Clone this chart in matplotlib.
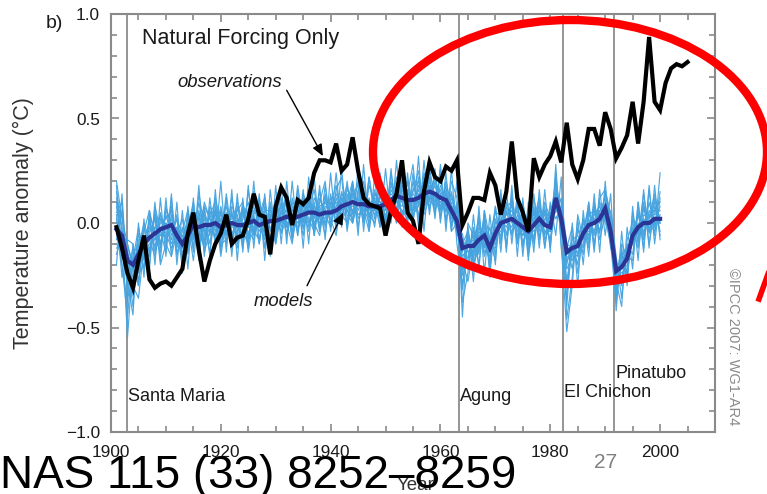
import matplotlib
matplotlib.use("Agg")
import matplotlib.pyplot as plt
from matplotlib.patches import Ellipse
from matplotlib.ticker import MultipleLocator, FixedLocator
from matplotlib.lines import Line2D

plt.rcParams['font.family'] = ['Liberation Sans', 'DejaVu Sans']

# ---------------- data ----------------
obs_years = list(range(1901, 2006))
observations = [
    -0.02, -0.12, -0.24, -0.31, -0.18, -0.06, -0.27, -0.31, -0.29, -0.28,
    -0.30, -0.26, -0.22, -0.05, 0.05, -0.13, -0.28, -0.18, -0.10, -0.05,
    0.04, -0.10, -0.07, -0.06, 0.02, 0.14, 0.04, 0.03, -0.15, 0.08,
    0.17, 0.12, -0.01, 0.11, 0.09, 0.12, 0.24, 0.30, 0.30, 0.29,
    0.38, 0.25, 0.28, 0.41, 0.25, 0.12, 0.09, 0.08, 0.07, -0.06,
    0.06, 0.14, 0.30, 0.05, 0.01, -0.10, 0.15, 0.29, 0.22, 0.20,
    0.27, 0.25, 0.30, -0.01, 0.05, 0.12, 0.12, 0.11, 0.24, 0.18,
    0.04, 0.15, 0.39, 0.12, 0.05, -0.04, 0.31, 0.22, 0.28, 0.32,
    0.39, 0.29, 0.48, 0.28, 0.21, 0.30, 0.45, 0.45, 0.37, 0.53,
    0.45, 0.31, 0.36, 0.42, 0.58, 0.38, 0.58, 0.89, 0.58, 0.54,
    0.67, 0.74, 0.76, 0.75, 0.77,
]

model_years = list(range(1901, 2001))
model_mean = [
    -0.03, -0.06, -0.18, -0.20, -0.15, -0.10, -0.07, -0.05, -0.03, -0.02,
    -0.01, -0.06, -0.10, -0.06, -0.01, -0.02, -0.01, -0.01, 0.00, -0.02,
    -0.01, 0.00, -0.01, -0.01, 0.00, 0.01, -0.01, 0.00, 0.01, 0.01,
    0.02, 0.03, 0.02, 0.03, 0.04, 0.05, 0.05, 0.04, 0.05, 0.05,
    0.06, 0.08, 0.09, 0.10, 0.09, 0.09, 0.08, 0.08, 0.08, 0.09,
    0.11, 0.13, 0.12, 0.11, 0.11, 0.12, 0.14, 0.15, 0.14, 0.12,
    0.11, 0.06, 0.01, -0.12, -0.11, -0.11, -0.08, -0.06, -0.12, -0.05,
    0.00, 0.01, 0.02, 0.00, -0.02, -0.04, -0.01, 0.02, -0.01, -0.02,
    0.12, 0.02, -0.14, -0.12, -0.11, -0.05, -0.01, 0.00, 0.02, 0.07,
    -0.04, -0.23, -0.21, -0.17, -0.06, -0.02, 0.00, 0.00, 0.02, 0.02,
]

run_a = [
    0.15, -0.02, -0.30, -0.25, -0.05, -0.18, 0.02, -0.12, 0.05, -0.08,
    0.08, -0.12, -0.02, -0.15, 0.06, -0.08, 0.10, 0.02, -0.09, 0.05,
    -0.10, 0.08, 0.02, -0.12, 0.07, -0.05, 0.12, -0.06, 0.04, -0.10,
    0.05, 0.14, -0.04, 0.08, -0.06, 0.12, 0.02, 0.15, -0.02, 0.09,
    0.18, 0.02, 0.14, 0.05, 0.20, 0.01, 0.12, -0.02, 0.16, 0.06,
    0.20, 0.05, 0.22, 0.08, 0.15, 0.25, 0.06, 0.18, 0.10, 0.22,
    0.05, 0.15, -0.02, -0.25, -0.05, -0.18, 0.02, -0.12, -0.02, -0.15,
    0.08, -0.06, 0.10, -0.08, 0.05, -0.12, 0.06, -0.04, 0.10, 0.02,
    0.20, 0.05, -0.28, -0.10, -0.20, 0.02, -0.08, 0.08, -0.05, 0.15,
    0.02, -0.32, -0.15, -0.25, 0.05, -0.10, 0.08, -0.05, 0.12, 0.00,
]
run_b = [
    -0.10, -0.15, -0.12, -0.35, -0.20, -0.02, -0.15, 0.05, -0.10, 0.04,
    -0.06, 0.02, -0.18, 0.04, -0.08, 0.06, -0.10, 0.08, 0.02, -0.12,
    0.05, -0.08, 0.06, 0.10, -0.06, 0.04, -0.10, 0.08, -0.04, 0.06,
    -0.05, 0.02, 0.10, -0.06, 0.12, -0.02, 0.10, -0.04, 0.14, 0.00,
    0.02, 0.15, 0.05, 0.18, -0.02, 0.14, 0.02, 0.16, 0.04, 0.12,
    0.05, 0.18, 0.02, 0.20, 0.04, 0.08, 0.22, 0.10, 0.24, 0.06,
    0.18, -0.02, 0.08, -0.20, -0.18, -0.02, -0.15, 0.04, -0.20, 0.02,
    -0.08, 0.06, -0.05, 0.10, -0.10, 0.02, -0.08, 0.10, -0.06, 0.05,
    0.05, 0.12, -0.10, -0.22, -0.02, -0.15, 0.06, -0.06, 0.10, 0.02,
    -0.10, -0.18, -0.30, -0.10, -0.15, 0.06, -0.06, 0.10, -0.02, 0.15,
]
run_c = [
    0.05, 0.10, -0.25, -0.12, -0.28, -0.08, 0.00, -0.14, 0.02, -0.05,
    -0.12, -0.05, 0.02, -0.14, 0.08, -0.10, 0.04, -0.06, 0.12, 0.00,
    0.08, -0.04, -0.12, 0.05, -0.02, 0.15, 0.00, -0.08, 0.10, -0.02,
    0.10, -0.05, 0.06, 0.12, -0.03, 0.08, 0.16, -0.02, 0.06, 0.12,
    -0.02, 0.10, 0.18, 0.04, 0.12, 0.00, 0.18, 0.10, -0.02, 0.14,
    0.12, 0.00, 0.16, 0.20, 0.02, 0.14, 0.06, 0.26, 0.12, 0.04,
    0.20, 0.08, -0.06, -0.05, -0.22, -0.08, 0.00, -0.16, -0.06, 0.05,
    0.04, -0.10, 0.12, -0.02, 0.06, -0.14, 0.02, 0.12, -0.08, -0.02,
    0.16, -0.06, -0.12, -0.02, -0.24, -0.04, 0.08, -0.10, 0.05, 0.12,
    -0.08, -0.25, -0.12, -0.28, 0.02, -0.06, 0.14, -0.04, 0.08, -0.04,
]
run_d = [
    -0.05, -0.20, -0.45, -0.15, -0.10, -0.22, -0.04, 0.02, -0.12, 0.06,
    0.00, -0.14, -0.08, 0.02, -0.06, 0.10, -0.06, 0.04, -0.04, 0.08,
    -0.06, 0.12, -0.04, 0.02, 0.10, -0.06, 0.04, 0.12, -0.08, 0.05,
    0.12, -0.02, 0.04, -0.04, 0.10, 0.02, -0.04, 0.12, 0.04, -0.02,
    0.12, 0.04, 0.00, 0.16, 0.08, 0.20, 0.04, 0.00, 0.14, 0.02,
    0.16, 0.10, 0.06, 0.02, 0.20, 0.08, 0.18, 0.06, 0.20, 0.14,
    0.02, 0.12, 0.04, -0.32, -0.08, -0.14, -0.04, -0.10, -0.14, -0.06,
    -0.04, 0.08, 0.00, 0.06, -0.12, 0.04, -0.10, 0.06, 0.04, -0.10,
    0.08, 0.00, -0.20, -0.08, -0.06, -0.12, 0.04, 0.06, -0.04, 0.10,
    0.00, -0.35, -0.20, -0.12, -0.10, 0.04, -0.08, 0.06, 0.00, 0.08,
]
run_e = [
    0.08, -0.08, -0.20, -0.40, -0.08, -0.06, -0.14, -0.02, 0.04, -0.10,
    0.04, -0.08, -0.12, -0.04, 0.04, -0.04, -0.12, 0.06, -0.02, 0.02,
    0.02, -0.10, 0.08, -0.04, -0.10, 0.06, 0.06, -0.02, 0.02, 0.10,
    -0.02, 0.08, -0.08, 0.06, 0.04, 0.10, -0.02, 0.08, 0.10, 0.04,
    0.08, 0.12, 0.06, 0.02, 0.14, 0.10, 0.06, 0.14, 0.10, 0.04,
    0.08, 0.22, 0.14, 0.06, 0.10, 0.04, 0.12, 0.20, 0.08, 0.18,
    0.10, 0.00, 0.10, -0.10, -0.04, -0.20, -0.12, 0.02, -0.10, -0.12,
    0.06, 0.02, -0.06, 0.04, -0.02, -0.08, 0.08, -0.06, 0.02, 0.06,
    0.12, 0.10, -0.16, -0.18, -0.10, 0.02, -0.10, 0.04, 0.08, 0.00,
    -0.06, -0.20, -0.26, -0.16, -0.02, -0.12, 0.04, 0.02, 0.10, -0.06,
]
run_f = [
    0.20, 0.02, -0.10, -0.22, -0.18, -0.12, -0.02, -0.08, -0.06, 0.00,
    -0.04, -0.02, -0.14, -0.10, -0.04, 0.04, 0.02, -0.10, 0.08, -0.06,
    -0.04, 0.04, -0.06, 0.08, 0.04, -0.04, -0.08, 0.06, 0.06, -0.06,
    0.06, 0.00, 0.02, 0.10, 0.06, -0.04, 0.08, 0.02, 0.00, 0.10,
    0.04, 0.06, 0.16, 0.12, 0.04, 0.06, 0.10, 0.06, 0.12, 0.10,
    0.14, 0.10, 0.08, 0.16, 0.06, 0.18, 0.10, 0.12, 0.18, 0.08,
    0.14, 0.04, -0.02, -0.16, -0.12, -0.06, -0.10, -0.04, -0.08, -0.02,
    0.00, 0.04, 0.06, -0.04, 0.02, -0.02, -0.04, 0.00, 0.04, 0.00,
    0.10, 0.06, -0.18, -0.14, -0.08, -0.06, 0.00, 0.02, 0.00, 0.06,
    -0.02, -0.22, -0.24, -0.20, -0.08, 0.00, -0.02, 0.04, 0.04, 0.06,
]
run_g = [
    -0.12, -0.10, -0.22, -0.28, -0.22, -0.14, -0.10, -0.08, 0.00, 0.02,
    0.06, -0.10, -0.06, -0.08, 0.00, -0.06, 0.06, -0.04, -0.06, -0.04,
    0.00, 0.02, 0.04, -0.08, 0.02, 0.08, -0.02, -0.04, 0.04, 0.02,
    -0.04, 0.06, 0.04, 0.00, 0.06, 0.08, 0.04, 0.00, 0.08, 0.06,
    0.10, 0.04, 0.12, 0.14, 0.06, 0.12, 0.10, 0.04, 0.06, 0.12,
    0.10, 0.14, 0.18, 0.10, 0.14, 0.10, 0.16, 0.12, 0.10, 0.16,
    0.08, 0.10, -0.04, -0.08, -0.14, -0.10, -0.06, -0.08, -0.16, -0.08,
    0.02, -0.02, 0.04, 0.02, -0.06, 0.00, 0.02, 0.04, -0.04, -0.04,
    0.14, 0.00, -0.10, -0.12, -0.14, -0.04, -0.04, 0.02, 0.04, 0.04,
    -0.06, -0.26, -0.18, -0.14, -0.10, -0.04, 0.02, -0.02, 0.00, 0.02,
]
run_h = [
    0.12, -0.04, -0.55, -0.18, -0.02, -0.16, -0.20, 0.08, -0.04, -0.14,
    0.12, -0.16, -0.04, 0.06, -0.12, 0.14, -0.02, -0.14, 0.06, -0.08,
    0.14, -0.06, 0.02, -0.10, 0.16, -0.04, 0.02, 0.10, -0.12, 0.08,
    0.00, 0.12, -0.06, 0.18, 0.00, 0.14, -0.06, 0.10, 0.20, -0.04,
    0.16, 0.22, -0.04, 0.14, 0.18, 0.02, 0.22, 0.06, 0.18, 0.00,
    0.24, 0.06, 0.20, 0.14, 0.28, 0.02, 0.24, 0.16, 0.04, 0.26,
    0.00, 0.20, 0.12, -0.45, 0.00, -0.06, -0.20, 0.06, -0.08, -0.18,
    0.12, -0.12, 0.14, -0.10, 0.10, -0.08, 0.12, -0.02, 0.08, -0.12,
    0.24, -0.10, -0.52, -0.30, 0.04, -0.08, 0.10, -0.12, 0.12, 0.16,
    0.04, -0.42, -0.10, -0.16, -0.18, 0.10, -0.12, 0.16, -0.06, 0.24,
]
run_i = [
    -0.08, 0.06, -0.35, -0.32, -0.12, 0.00, -0.08, -0.16, -0.02, 0.00,
    -0.08, 0.04, -0.16, -0.12, 0.02, 0.00, -0.08, 0.04, 0.10, -0.10,
    -0.08, 0.06, -0.10, 0.06, -0.08, 0.10, 0.04, -0.12, 0.06, 0.04,
    0.08, -0.06, 0.12, 0.02, 0.08, 0.00, 0.12, 0.06, -0.06, 0.14,
    0.00, 0.14, 0.10, 0.20, 0.02, 0.08, 0.00, 0.12, 0.02, 0.16,
    0.02, 0.16, 0.10, 0.00, 0.16, 0.20, 0.08, 0.14, 0.22, 0.02,
    0.16, -0.04, 0.00, -0.18, -0.28, -0.12, 0.04, -0.14, -0.10, 0.08,
    -0.10, 0.10, 0.02, -0.06, 0.08, -0.16, 0.00, 0.08, -0.12, 0.08,
    0.02, 0.08, -0.40, -0.06, -0.16, 0.00, -0.06, 0.10, -0.08, 0.04,
    0.06, -0.16, -0.36, -0.08, 0.00, -0.08, 0.10, -0.10, 0.06, 0.10,
]
run_j = [
    0.02, -0.12, -0.15, -0.20, -0.30, -0.04, 0.06, -0.06, -0.14, 0.08,
    -0.02, -0.10, -0.08, -0.02, 0.10, -0.12, 0.00, 0.00, -0.06, 0.06,
    -0.02, -0.02, 0.10, 0.00, -0.04, -0.08, 0.08, 0.04, -0.02, -0.04,
    0.04, 0.10, 0.00, -0.02, 0.14, 0.06, 0.00, 0.06, 0.02, 0.08,
    0.06, 0.00, 0.08, 0.08, 0.12, 0.16, 0.04, 0.10, 0.08, 0.06,
    0.18, 0.12, 0.04, 0.12, 0.08, 0.12, 0.20, 0.08, 0.14, 0.10,
    0.06, 0.14, 0.00, -0.14, -0.06, -0.16, -0.02, -0.10, -0.18, 0.00,
    0.02, 0.00, -0.02, 0.08, -0.04, -0.06, -0.06, 0.06, 0.00, -0.08,
    0.10, 0.04, -0.14, -0.10, -0.12, -0.10, 0.02, -0.04, 0.06, 0.08,
    -0.12, -0.20, -0.22, -0.22, -0.04, -0.04, 0.02, 0.00, -0.04, 0.04,
]
run_k = [
    -0.15, -0.04, -0.10, -0.20, -0.12, -0.14, -0.12, -0.02, -0.06, -0.06,
    0.02, -0.04, -0.12, -0.06, -0.02, 0.02, -0.04, 0.00, 0.04, -0.02,
    0.04, -0.02, -0.02, -0.02, 0.04, 0.02, -0.04, 0.02, 0.00, 0.04,
    0.00, 0.04, 0.06, 0.04, 0.02, 0.06, 0.08, 0.02, 0.04, 0.04,
    0.08, 0.10, 0.08, 0.06, 0.10, 0.08, 0.10, 0.08, 0.06, 0.10,
    0.12, 0.12, 0.10, 0.14, 0.12, 0.10, 0.14, 0.16, 0.12, 0.10,
    0.12, 0.06, 0.02, -0.12, -0.10, -0.08, -0.06, -0.04, -0.10, -0.04,
    -0.02, 0.02, 0.02, 0.00, 0.00, -0.04, 0.00, 0.02, 0.00, -0.02,
    0.12, 0.02, -0.12, -0.12, -0.10, -0.06, -0.02, 0.00, 0.02, 0.06,
    -0.04, -0.22, -0.20, -0.16, -0.06, -0.02, 0.00, 0.00, 0.02, 0.02,
]
run_l = [
    0.10, -0.16, -0.08, -0.10, -0.24, -0.20, 0.04, -0.04, -0.10, -0.02,
    -0.10, -0.02, -0.06, -0.12, -0.06, -0.02, 0.08, 0.02, -0.02, 0.00,
    -0.06, 0.04, 0.00, 0.06, -0.02, -0.02, 0.06, -0.06, 0.08, -0.04,
    0.06, -0.02, 0.08, 0.06, -0.02, 0.10, 0.06, 0.08, 0.00, 0.06,
    0.14, 0.06, 0.10, 0.00, 0.10, 0.04, 0.08, 0.12, 0.10, 0.08,
    0.06, 0.14, 0.16, 0.08, 0.06, 0.16, 0.10, 0.22, 0.06, 0.14,
    0.08, 0.02, 0.06, -0.22, -0.16, -0.04, -0.12, -0.02, -0.12, -0.10,
    0.00, 0.04, 0.08, -0.02, -0.06, 0.02, 0.04, -0.02, 0.06, 0.02,
    0.18, -0.04, -0.22, -0.16, -0.04, -0.04, 0.00, 0.04, 0.08, 0.02,
    0.00, -0.30, -0.16, -0.12, -0.06, -0.02, 0.06, 0.04, 0.00, 0.00,
]
run_m = [
    0.18, -0.20, -0.38, -0.10, -0.30, 0.02, -0.22, 0.10, -0.18, 0.12,
    -0.16, 0.10, -0.24, 0.08, -0.14, 0.18, -0.16, 0.12, -0.10, 0.20,
    -0.14, 0.16, -0.18, 0.12, -0.12, 0.20, -0.10, 0.14, -0.16, 0.18,
    -0.10, 0.20, -0.08, 0.16, -0.12, 0.22, -0.06, 0.18, -0.08, 0.24,
    -0.04, 0.26, -0.02, 0.20, -0.06, 0.28, -0.04, 0.22, -0.02, 0.26,
    0.00, 0.30, -0.02, 0.24, 0.00, 0.32, -0.04, 0.26, 0.02, 0.28,
    -0.04, 0.26, -0.10, -0.30, -0.02, -0.28, 0.08, -0.24, 0.04, -0.20,
    0.16, -0.14, 0.18, -0.16, 0.12, -0.18, 0.14, -0.12, 0.16, -0.14,
    0.28, -0.12, -0.36, 0.00, -0.30, 0.06, -0.16, 0.14, -0.14, 0.20,
    -0.10, -0.38, -0.04, -0.30, 0.08, -0.18, 0.16, -0.12, 0.18, -0.08,
]
run_n = [
    -0.20, 0.14, -0.28, -0.44, 0.00, -0.26, 0.06, -0.20, 0.12, -0.16,
    0.14, -0.20, 0.06, -0.22, 0.12, -0.18, 0.08, -0.16, 0.16, -0.14,
    0.12, -0.16, 0.14, -0.14, 0.18, -0.12, 0.14, -0.18, 0.16, -0.08,
    0.18, -0.10, 0.20, -0.06, 0.16, -0.10, 0.22, -0.04, 0.18, -0.02,
    0.24, -0.02, 0.20, 0.00, 0.26, -0.04, 0.22, 0.02, 0.24, -0.02,
    0.26, 0.00, 0.28, 0.02, 0.24, -0.02, 0.30, 0.04, 0.26, 0.00,
    0.24, -0.04, 0.20, -0.38, -0.24, 0.04, -0.22, 0.06, -0.26, 0.08,
    -0.14, 0.16, -0.10, 0.14, -0.16, 0.10, -0.14, 0.16, -0.12, 0.10,
    -0.06, 0.22, -0.46, -0.26, 0.02, -0.20, 0.10, -0.14, 0.16, -0.06,
    0.14, -0.28, -0.40, -0.02, -0.22, 0.10, -0.14, 0.18, -0.10, 0.12,
]
run_o = [
    0.04, -0.26, -0.18, -0.30, -0.36, -0.12, -0.16, 0.04, -0.20, -0.10,
    -0.16, -0.04, -0.20, 0.00, -0.18, 0.04, -0.14, -0.04, 0.06, -0.16,
    0.02, -0.12, -0.04, 0.08, -0.14, 0.04, 0.10, -0.12, 0.02, -0.10,
    0.10, 0.00, -0.10, 0.10, 0.00, 0.16, 0.00, -0.06, 0.12, 0.02,
    -0.06, 0.12, 0.04, 0.00, 0.16, 0.06, -0.04, 0.14, 0.10, 0.00,
    0.10, 0.04, 0.18, 0.14, 0.00, 0.22, 0.04, 0.12, 0.22, 0.06,
    0.14, 0.02, 0.08, -0.22, -0.02, -0.20, -0.10, 0.00, -0.22, -0.02,
    -0.06, 0.08, 0.10, -0.10, 0.02, -0.10, 0.06, -0.08, 0.06, -0.04,
    0.14, -0.02, -0.30, -0.14, -0.16, -0.02, -0.12, 0.08, 0.00, 0.14,
    -0.02, -0.34, -0.14, -0.24, -0.04, 0.04, -0.04, 0.02, 0.14, 0.00,
]
model_runs = [run_a, run_b, run_c, run_d, run_e, run_f, run_g, run_h,
              run_i, run_j, run_k, run_l, run_m, run_n, run_o]

volcano_names = ["Santa Maria", "Agung", "El Chichon", "Pinatubo"]
volcano_years = [1902.9, 1963.3, 1982.3, 1991.6]
volcano_label_y = [-0.83, -0.83, -0.81, -0.72]

x_ticks = [1900, 1920, 1940, 1960, 1980, 2000]
y_ticks = [-1.0, -0.5, 0.0, 0.5, 1.0]

# ---------------- figure ----------------
W, H = 767, 494
fig = plt.figure(figsize=(W / 100, H / 100), dpi=100)
ax = fig.add_axes([111 / W, 1 - 432 / H, 604 / W, 418 / H])

spine_c = '#8a8a8a'
txt_c = '#1a1a1a'

for vy in volcano_years:
    ax.axvline(vy, color='#8c8c8c', lw=1.3, zorder=1)

for run in model_runs:
    ax.plot(model_years, run, color='#45a3df', lw=0.85, alpha=0.95, zorder=2)

ax.plot(model_years, model_mean, color='#2b3595', lw=3.0, zorder=3,
        solid_joinstyle='miter')
ax.plot(obs_years, observations, color='black', lw=3.0, zorder=4,
        solid_joinstyle='miter')

for name, vy, ly in zip(volcano_names, volcano_years, volcano_label_y):
    ax.text(vy + 0.2, ly, name, fontsize=13, color=txt_c, ha='left',
            va='center', zorder=5)

ax.set_xlim(1900, 2010)
ax.set_ylim(-1.0, 1.0)
ax.xaxis.set_major_locator(FixedLocator(x_ticks))
ax.xaxis.set_minor_locator(MultipleLocator(5))
ax.yaxis.set_major_locator(FixedLocator(y_ticks))
ax.yaxis.set_minor_locator(MultipleLocator(0.1))
ax.set_yticklabels(['\u22121.0', '\u22120.5', '0.0', '0.5', '1.0'])
ax.tick_params(which='both', direction='in', top=True, right=True,
               color=spine_c, width=1.2)
ax.tick_params(which='major', length=6)
ax.tick_params(which='minor', length=4.5)
ax.tick_params(axis='x', which='major', labelsize=12.4, pad=9,
               labelcolor=txt_c)
ax.tick_params(axis='y', which='major', labelsize=12.4, pad=8,
               labelcolor=txt_c)
for sp in ax.spines.values():
    sp.set_color(spine_c)
    sp.set_linewidth(1.5)

ax.text(1905.6, 0.885, "Natural Forcing Only", fontsize=15.5, color=txt_c,
        ha='left', va='center')

ax.text(1921.6, 0.67, "observations", fontsize=13.3, style='italic',
        color=txt_c, ha='center', va='center')
ax.annotate("", xy=(1938.6, 0.32), xytext=(1932.0, 0.635),
            arrowprops=dict(arrowstyle='-|>,head_length=0.7,head_width=0.3',
                            color='black', lw=1.0, shrinkA=0, shrinkB=0),
            zorder=6)
ax.text(1931.4, -0.375, "models", fontsize=13.3, style='italic',
        color=txt_c, ha='center', va='center')
ax.annotate("", xy=(1942.3, 0.05), xytext=(1935.7, -0.30),
            arrowprops=dict(arrowstyle='-|>,head_length=0.7,head_width=0.3',
                            color='black', lw=1.0, shrinkA=0, shrinkB=0),
            zorder=6)

# figure-level texts
fig.text(54 / W, 1 - 23 / H, "b)", fontsize=14, color=txt_c,
         ha='center', va='center')
fig.text(23 / W, 1 - 223 / H, "Temperature anomaly (\u00b0C)", fontsize=15.5,
         color='#333333', rotation=90, ha='center', va='center')
fig.text(733 / W, 1 - 347 / H, "\u00a9IPCC 2007: WG1-AR4", fontsize=10.5,
         color='#8a8a8a', rotation=270, ha='center', va='center')
fig.text(416 / W, 1 - 485 / H, "Year", fontsize=13.5, color='#333333',
         ha='center', va='center')
fig.text(606 / W, 1 - 462 / H, "27", fontsize=15, color='#808080',
         ha='center', va='center')
fig.text(0, 1 - 488 / H, "NAS 115 (33) 8252\u20138259", fontsize=33,
         color='black', ha='left', va='baseline')

# red highlight ellipse and arrow fragment
ell = Ellipse((570 / W, 1 - 152 / H), 394 / W, 264 / H,
              transform=fig.transFigure, fill=False, edgecolor='#ff0000',
              lw=6.0, zorder=10)
fig.add_artist(ell)
fig.add_artist(Line2D([759 / W, 768 / W], [1 - 299 / H, 1 - 274 / H],
                      transform=fig.transFigure, color='#ff0000', lw=4.0))

fig.savefig("out.png", dpi=100, facecolor='white')
